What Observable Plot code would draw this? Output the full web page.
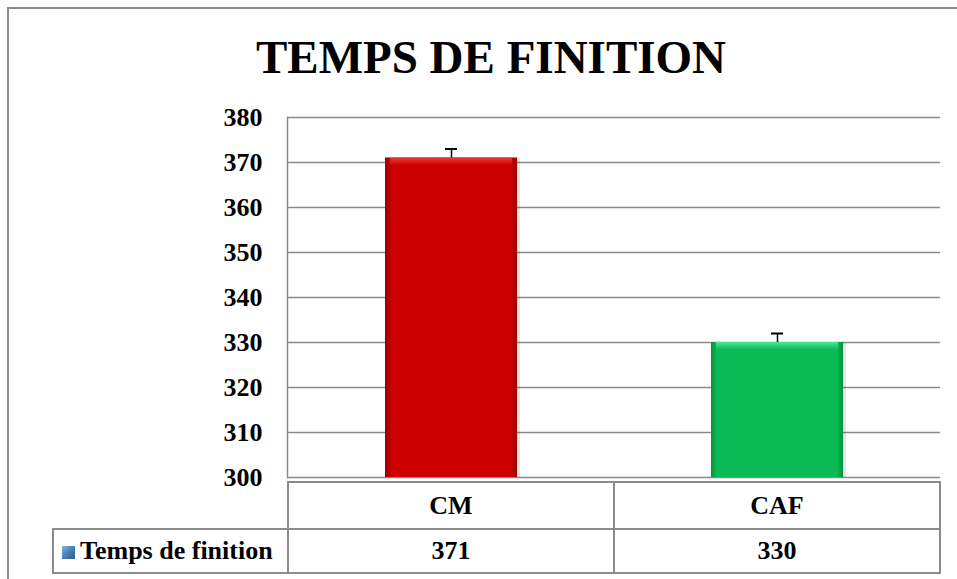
<!DOCTYPE html>
<html><head><meta charset="utf-8">
<script src="https://cdn.jsdelivr.net/npm/d3@7"></script>
<script src="https://cdn.jsdelivr.net/npm/@observablehq/plot@0.6"></script>
<style>
body{margin:0;background:#fff;}
#wrap{position:relative;width:957px;height:579px;overflow:hidden;font-family:"Liberation Serif","Times New Roman",serif;color:#000;}
#frame{position:absolute;left:7px;top:7px;width:1000px;height:1000px;border:2px solid #8c8c8c;box-sizing:border-box;}
#title{position:absolute;left:8px;width:966px;top:34px;text-align:center;font-size:47px;font-weight:bold;line-height:47px;}
#chart{position:absolute;left:0;top:95px;}
#tbl{position:absolute;left:52px;top:481px;border-collapse:collapse;font-size:26px;font-weight:bold;}
#tbl td{border:2px solid #8c8c8c;text-align:center;vertical-align:middle;padding:0;box-sizing:border-box;}
#tbl td.blank{border-top:none;border-left:none;}
#tbl td.leg{text-align:left;padding-left:8px;white-space:nowrap;}
.mk{display:inline-block;width:13px;height:13px;margin-right:5px;vertical-align:0px;
 background:linear-gradient(135deg,#8fb4e3 0%,#4f81bd 45%,#2c5a93 100%);}
</style>
</head><body>
<div id="wrap">
  <div id="frame"></div>
  <div id="title"></div>
  <div id="chart"></div>
</div>
<script>
const titleText = "TEMPS DE FINITION";
const seriesName = "Temps de finition";
const categories = ["CM", "CAF"];
const values = [371, 330];
const errors = [2, 2];
const yTicks = [300, 310, 320, 330, 340, 350, 360, 370, 380];
const barColors = ["#cc0000", "#0abb55"];
const edgeColors = ["#9a0000", "#06913f"];
const lightColors = ["#ee3a3a", "#45ea92"];

document.getElementById("title").textContent = titleText;

const data = categories.map((c, i) => ({cat: c, value: values[i], err: errors[i], i}));
const yMin = yTicks[0], yMax = yTicks[yTicks.length - 1];

function defs() {
  const d = d3.create("svg:defs");
  barColors.forEach((c, i) => {
    const g = d.append("linearGradient").attr("id", "side" + i).attr("x1", 0).attr("x2", 1).attr("y1", 0).attr("y2", 0);
    [[0, edgeColors[i]], [0.05, c], [0.95, c], [1, edgeColors[i]]].forEach(([o, col]) =>
      g.append("stop").attr("offset", o).attr("stop-color", col));
    const t = d.append("linearGradient").attr("id", "top" + i).attr("x1", 0).attr("x2", 0).attr("y1", 0).attr("y2", 1);
    [[0, lightColors[i]], [1, c]].forEach(([o, col]) =>
      t.append("stop").attr("offset", o).attr("stop-color", col));
  });
  return d.node();
}

const chart = Plot.plot({
  width: 957, height: 400,
  marginLeft: 287, marginRight: 17, marginTop: 22, marginBottom: 18,
  style: {fontFamily: '"Liberation Serif","Times New Roman",serif', fontSize: "26px", fontWeight: "bold", color: "#000", background: "transparent", overflow: "visible"},
  x: {domain: categories, paddingInner: 0.596, paddingOuter: 0.298, axis: null},
  y: {domain: [yMin, yMax], ticks: yTicks, label: null, tickSize: 0, tickPadding: 25, tickFormat: d => String(d)},
  color: {type: "identity"},
  marks: [
    defs,
    Plot.gridY(yTicks, {stroke: "#8a8a8a", strokeOpacity: 1, strokeWidth: 1.5}),
    Plot.frame({anchor: "left", stroke: "#8a8a8a", strokeWidth: 1.5}),
    Plot.barY(data, {x: "cat", y1: d => yMin, y2: "value", fill: "#000", dx: 3, fillOpacity: 0.1}),
    Plot.barY(data, {x: "cat", y1: d => yMin, y2: "value", fill: d => "url(#side" + d.i + ")"}),
    Plot.barY(data, {x: "cat", y1: d => d.value - 1.7, y2: "value", fill: d => "url(#top" + d.i + ")", insetLeft: 5, insetRight: 5}),
    Plot.ruleX(data, {x: "cat", y1: "value", y2: d => d.value + d.err, stroke: "#000", strokeWidth: 1.5}),
    Plot.tickY(data, {x: "cat", y: d => d.value + d.err, stroke: "#000", strokeWidth: 2, insetLeft: 60, insetRight: 60})
  ]
});
document.getElementById("chart").appendChild(chart);

// Data table aligned to the band scale
const xs = chart.scale("x");
const step = xs.step;
const r0 = xs.range[0];
const tbl = document.createElement("table");
tbl.id = "tbl";
const legLeft = 52;
const colW = [r0 - legLeft, step, step];
const row1 = tbl.insertRow();
row1.style.height = "47px";
const blank = row1.insertCell(); blank.className = "blank"; blank.style.width = colW[0] + "px";
categories.forEach((c, i) => { const td = row1.insertCell(); td.textContent = c; td.style.width = colW[i + 1] + "px"; });
const row2 = tbl.insertRow();
row2.style.height = "44px";
const leg = row2.insertCell(); leg.className = "leg";
leg.innerHTML = '<span class="mk"></span>';
leg.appendChild(document.createTextNode(seriesName));
values.forEach(v => { const td = row2.insertCell(); td.textContent = String(v); });
document.getElementById("wrap").appendChild(tbl);
</script>
</body></html>
